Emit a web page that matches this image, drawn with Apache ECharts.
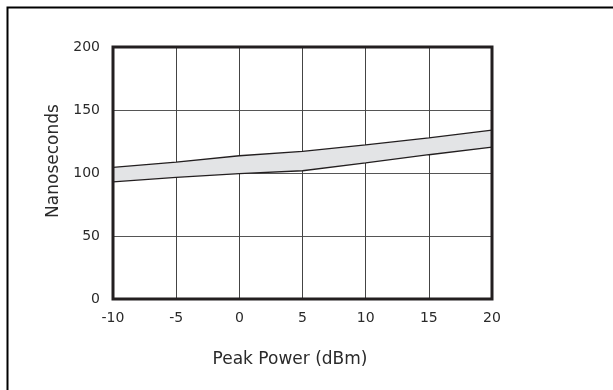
<!DOCTYPE html>
<html><head><meta charset="utf-8">
<script src="https://cdn.jsdelivr.net/npm/echarts@6/dist/echarts.min.js"></script>
<style>html,body{margin:0;padding:0;background:#fff}#c{width:613px;height:390px}</style>
</head><body><div id="c"></div>
<script>
var powerDbm = ['-10', '-5', '0', '5', '10', '15', '20'];
var lowerNs = [93, 96.5, 99.5, 101.8, 108, 114.5, 120.5];
var upperNs = [104.5, 108.7, 113.7, 117.2, 122.3, 127.8, 134];
var yTicks = [0, 50, 100, 150, 200];

var ink = '#231f20';
var font = 'DejaVu Sans';
var chart = echarts.init(document.getElementById('c'), null, {renderer: 'canvas'});
var bandData = upperNs.map(function (u, i) { return +(u - lowerNs[i]).toFixed(2); });
chart.setOption({
  animation: false,
  backgroundColor: '#fff',
  graphic: [{
    type: 'rect', left: 5, top: 5, z: -1,
    shape: {width: 700, height: 500},
    style: {fill: 'none', stroke: '#000', lineWidth: 2}
  }],
  grid: {left: 113, right: 121, top: 47, bottom: 91, show: true, borderColor: ink, borderWidth: 3, z: 3},
  xAxis: {
    type: 'category', data: powerDbm, boundaryGap: false,
    name: 'Peak Power (dBm)', nameLocation: 'middle', nameGap: 52,
    nameTextStyle: {fontFamily: font, fontSize: 17, color: '#2a2a2a', padding: [0, 25, 0, 0]},
    axisLine: {show: false}, axisTick: {show: false},
    axisLabel: {fontFamily: font, fontSize: 14, color: '#2a2a2a', margin: 12, interval: 0},
    splitLine: {show: true, interval: 0, lineStyle: {color: '#444', width: 1}}
  },
  yAxis: {
    type: 'value', min: 0, max: 200, interval: 50,
    name: 'Nanoseconds', nameLocation: 'middle', nameGap: 43, nameRotate: 90,
    nameTextStyle: {fontFamily: font, fontSize: 17, color: '#2a2a2a', padding: [0, 0, 0, 24]},
    axisLine: {show: false}, axisTick: {show: false},
    axisLabel: {fontFamily: font, fontSize: 14, color: '#2a2a2a', margin: 13,
      formatter: function (v) { return yTicks.indexOf(v) >= 0 ? String(v) : ''; }},
    splitLine: {show: true, lineStyle: {color: '#555', width: 1}}
  },
  series: [
    {type: 'line', data: lowerNs, stack: 'band', symbol: 'none',
     lineStyle: {color: ink, width: 1.3}, z: 2},
    {type: 'line', data: bandData, stack: 'band', symbol: 'none',
     lineStyle: {color: ink, width: 1.3},
     areaStyle: {color: '#e3e4e6', opacity: 1}, z: 1}
  ]
});
</script></body></html>
